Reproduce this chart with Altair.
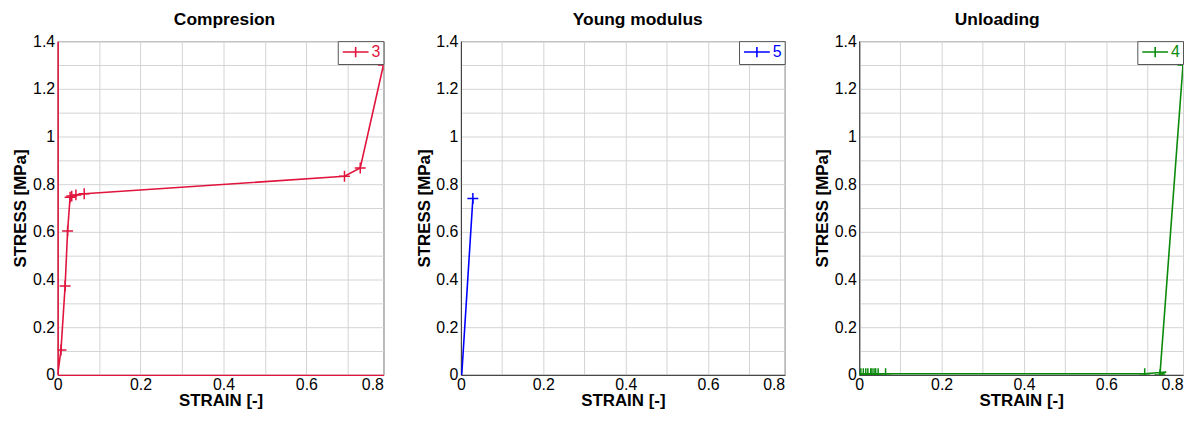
import altair as alt
import pandas as pd

# ---------------- data ----------------
comp_strain = [0.0, 0.008, 0.018, 0.024, 0.030, 0.034, 0.044, 0.064, 0.692, 0.730, 0.790]
comp_stress = [0.0, 0.104, 0.373, 0.604, 0.745, 0.750, 0.755, 0.760, 0.833, 0.868, 1.300]
comp_marker = [False, True, True, True, True, True, True, True, True, True, True]

young_strain = [0.0, 0.002, 0.029]
young_stress = [0.0, 0.0, 0.740]
young_marker = [False, False, True]

unl_strain = [0.0, 0.004, 0.010, 0.016, 0.021, 0.028, 0.031, 0.036, 0.040, 0.046, 0.064,
              0.693, 0.745, 0.730, 0.790]
unl_stress = [0.005, 0.005, 0.005, 0.005, 0.005, 0.005, 0.005, 0.005, 0.005, 0.005, 0.005,
              0.005, 0.012, 0.0, 1.300]
unl_marker = [False, True, True, True, True, True, True, True, True, True, True,
              True, False, True, True]

titles = ["Compresion", "Young modulus", "Unloading"]
series_labels = ["3", "5", "4"]
colors = ["#E0143C", "#0000FF", "#0A8A0A"]

x_grid = [0.0, 0.1, 0.2, 0.3, 0.4, 0.5, 0.6, 0.7, 0.8]
y_grid = [0.0, 0.1, 0.2, 0.3, 0.4, 0.5, 0.6, 0.7, 0.8, 0.9, 1.0, 1.1, 1.2, 1.3, 1.4]
X_MAX = 0.786
Y_MAX = 1.4

FONT = "Liberation Sans"
PLUS = "M-1,0H1M0,-1V1"
LEGEND_SYMBOL = "M-2,0H2M0,-0.8V0.8"
LABEL_EXPR = "round(datum.value*10) % 2 == 0 ? format(datum.value, '~g') : ''"
PLOT_H = 336


def panel(title, strain, stress, marker, label, color, dx, domain_color, width):
    df = pd.DataFrame({
        "strain": strain,
        "stress": stress,
        "marker": marker,
        "idx": list(range(len(strain))),
        "series": [label] * len(strain),
    })
    dw = 1.5 if domain_color != "#333333" else 1
    x = alt.X(
        "strain:Q",
        scale=alt.Scale(domain=[0, X_MAX], clamp=True, nice=False, zero=False),
        axis=alt.Axis(
            values=x_grid, labelExpr=LABEL_EXPR, title="STRAIN [-]",
            labelAlign=alt.condition("datum.value >= 0.8", alt.value("right"), alt.value("center")),
            domainColor=domain_color, domainWidth=dw,
        ),
    )
    y = alt.Y(
        "stress:Q",
        scale=alt.Scale(domain=[0, Y_MAX], nice=False, zero=False),
        axis=alt.Axis(
            values=y_grid, labelExpr=LABEL_EXPR, title="STRESS [MPa]",
            domainColor=domain_color, domainWidth=dw,
        ),
    )
    cscale = alt.Scale(domain=[label], range=[color])
    base = alt.Chart(df)
    line = base.mark_line(strokeWidth=1.6, clip=True).encode(
        x=x, y=y,
        color=alt.Color("series:N", scale=cscale,
                        legend=alt.Legend(title=None, symbolType=LEGEND_SYMBOL,
                                          labelColor=color)),
        order="idx:Q",
    )
    pts = base.transform_filter("datum.marker").mark_point(
        shape=PLUS, size=121, filled=False, strokeWidth=1.5, clip=True, opacity=1
    ).encode(
        x=x, y=y,
        color=alt.Color("series:N", scale=cscale, legend=None),
    )
    return alt.layer(line, pts).properties(
        width=width, height=PLOT_H,
        title=alt.Title(title, dx=dx),
    )


p1 = panel(titles[0], comp_strain, comp_stress, comp_marker, series_labels[0], colors[0], 4, "#E0143C", 328)
p2 = panel(titles[1], young_strain, young_stress, young_marker, series_labels[1], colors[1], 15, "#333333", 326)
p3 = panel(titles[2], unl_strain, unl_stress, unl_marker, series_labels[2], colors[2], -24, "#333333", 326)

left_pair = alt.hconcat(p1, p2, spacing=30).resolve_scale(
    color="independent", x="independent", y="independent"
)
chart = alt.hconcat(left_pair, p3, spacing=27).resolve_scale(
    color="independent", x="independent", y="independent"
).properties(
    padding={"left": 3, "top": 1, "right": 0, "bottom": 0}
).configure_view(
    stroke="#444444", strokeWidth=1
).configure_axis(
    labelFont=FONT, labelFontSize=16, labelColor="#000000",
    titleFont=FONT, titleFontSize=17, titleFontWeight="bold", titleColor="#000000",
    grid=True, gridColor="#d4d4d4", gridWidth=1, ticks=False,
    labelOverlap=False, labelPadding=3, titlePadding=3,
).configure_axisX(
    labelPadding=2, titlePadding=0,
).configure_axisY(
    minExtent=25, maxExtent=25,
).configure_title(
    font=FONT, fontSize=17.5, fontWeight="bold", color="#000000", anchor="middle", offset=4.5,
).configure_legend(
    orient="top-right", offset=0, padding=3, strokeColor="#555555", fillColor="#ffffff",
    labelFont=FONT, labelFontSize=16, symbolStrokeWidth=1.6, symbolSize=169,
    symbolOffset=7, labelOffset=8, cornerRadius=0,
)

chart.save("out.html", embed_options={"renderer": "svg", "actions": False})
